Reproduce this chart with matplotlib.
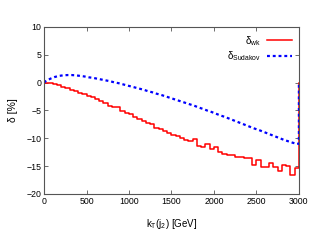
import numpy as np
import matplotlib
matplotlib.use("Agg")
import matplotlib.pyplot as plt

plt.rcParams['font.family'] = ['Liberation Sans', 'DejaVu Sans']
plt.rcParams['mathtext.fontset'] = 'custom'
plt.rcParams['mathtext.rm'] = 'Liberation Sans'
plt.rcParams['mathtext.it'] = 'Liberation Sans'

# bin edges in kT (GeV), 50 GeV bins
edges = np.arange(0, 3001, 50)

# delta_wk [%] per bin
delta_wk = [0.0, -0.05, -0.3, -0.5, -0.75, -0.95, -1.25, -1.5, -1.8, -2.1,
            -2.4, -2.65, -2.95, -3.3, -3.6, -4.25, -4.4, -4.45, -5.1, -5.4,
            -5.7, -6.2, -6.5, -6.9, -7.3, -7.5, -8.1, -8.3, -8.7, -9.1,
            -9.5, -9.6, -10.0, -10.3, -10.5, -10.2, -11.4, -11.5, -11.1, -11.9,
            -11.6, -12.4, -12.9, -13.0, -13.0, -13.3, -13.3, -13.5, -13.6, -14.8,
            -13.9, -15.1, -15.1, -14.5, -15.1, -15.9, -14.8, -14.9, -16.6, -15.3]

# delta_Sudakov [%] per bin
delta_sud = [0.3, 0.7, 1.0, 1.2, 1.3, 1.35, 1.35, 1.3, 1.2, 1.1,
             0.95, 0.85, 0.7, 0.55, 0.4, 0.25, 0.05, -0.1, -0.3, -0.5,
             -0.7, -0.9, -1.1, -1.3, -1.55, -1.75, -2.0, -2.2, -2.45, -2.7,
             -2.95, -3.2, -3.45, -3.7, -3.95, -4.2, -4.5, -4.75, -5.05, -5.3,
             -5.6, -5.9, -6.15, -6.45, -6.75, -7.05, -7.35, -7.65, -7.95, -8.25,
             -8.5, -8.8, -9.1, -9.4, -9.7, -10.0, -10.3, -10.55, -10.8, -11.0]

centers = (edges[:-1] + edges[1:]) / 2

fig = plt.figure(figsize=(3.19, 2.47), dpi=100)
ax = fig.add_axes([0.138, 0.215, 0.799, 0.676])

# red histogram, closed back to 0 at the right edge
xs = np.append(edges, edges[-1])
ys = np.concatenate([delta_wk, [delta_wk[-1], 0.0]])
ax.step(xs, ys, where='post', color='#ff0000', lw=1.1, label='δ$_{\\rm wk}$')

# blue curve, also dropping to 0 at the end
bx = np.concatenate([[0], centers, [3000, 3000]])
by = np.concatenate([[0], delta_sud, [delta_sud[-1], 0.0]])
ax.plot(bx, by, color='#0000ff', lw=1.6, ls=(0, (1.3, 1.3)),
        label='δ$_{\\rm Sudakov}$')

ax.set_xlim(0, 3000)
ax.set_ylim(-20, 10)
ax.set_xticks([0, 500, 1000, 1500, 2000, 2500, 3000])
ax.set_yticks([-20, -15, -10, -5, 0, 5, 10])
ax.tick_params(direction='in', top=True, right=True, labelsize=6.3,
               length=3, width=0.6, color='#555555', pad=2)
for s in ax.spines.values():
    s.set_color('#555555')
    s.set_linewidth(0.8)

ax.set_xlabel('k$_{\\rm T}$(j$_2$) [GeV]', fontsize=7, labelpad=8)
ax.set_ylabel('δ [%]', fontsize=7.5, labelpad=6)

ax.legend(loc='upper right', frameon=False, markerfirst=False, fontsize=7,
          handlelength=2.6, borderaxespad=0.3, labelspacing=0.15, handletextpad=0.6)

fig.savefig('out.png', dpi=100)
